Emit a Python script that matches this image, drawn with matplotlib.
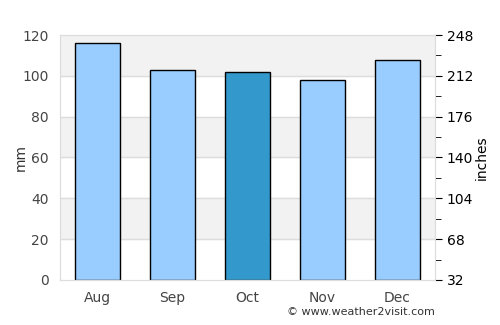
import matplotlib
matplotlib.use('Agg')
import matplotlib.pyplot as plt

months = ['Aug', 'Sep', 'Oct', 'Nov', 'Dec']
rain_mm = [116, 103, 102, 98, 108]
bar_colours = ['#99ccff', '#99ccff', '#3399cc', '#99ccff', '#99ccff']
right_ticks = [32, 68, 104, 140, 176, 212, 248]
right_minor = [50, 86, 122, 158, 194, 230]

fig = plt.figure(figsize=(5, 3.25), dpi=100)
ax = fig.add_axes([0.12, 0.1385, 0.75, 0.7538])

# alternating bands
for lo in (20, 60, 100):
    ax.axhspan(lo, lo + 20, color='#f2f2f2', zorder=0)
for y in range(20, 120, 20):
    ax.axhline(y, color='#dddddd', linewidth=1, zorder=1)

ax.bar(range(len(months)), rain_mm, width=0.6, color=bar_colours,
       edgecolor='black', linewidth=1, zorder=2)

ax.set_xlim(-0.5, len(months) - 0.5)
ax.set_ylim(0, 120)
ax.set_xticks(range(len(months)))
ax.set_xticklabels(months)
ax.set_yticks(range(0, 121, 20))
ax.tick_params(axis='both', length=0, labelsize=10, labelcolor='#444444', pad=8)
ax.set_ylabel('mm', color='#333333', fontsize=10)
ax.yaxis.set_label_coords(-0.085, 0.5)
for s in ax.spines.values():
    s.set_color('#dddddd')

ax2 = ax.twinx()
ax2.set_ylim(32, 248)
ax2.set_yticks(right_ticks)
ax2.set_yticks(right_minor, minor=True)
ax2.tick_params(axis='y', which='major', length=5, labelsize=10, colors='black')
ax2.tick_params(axis='y', which='minor', length=4, colors='black')
ax2.set_ylabel('inches', fontsize=10)
ax2.yaxis.set_label_coords(1.106, 0.5)
for s in ax2.spines.values():
    s.set_color('#dddddd')

fig.text(0.87, 0.025, '\u00a9 www.weather2visit.com', ha='right', va='bottom',
         fontsize=8, color='#333333')

fig.savefig('out.png', dpi=100)
